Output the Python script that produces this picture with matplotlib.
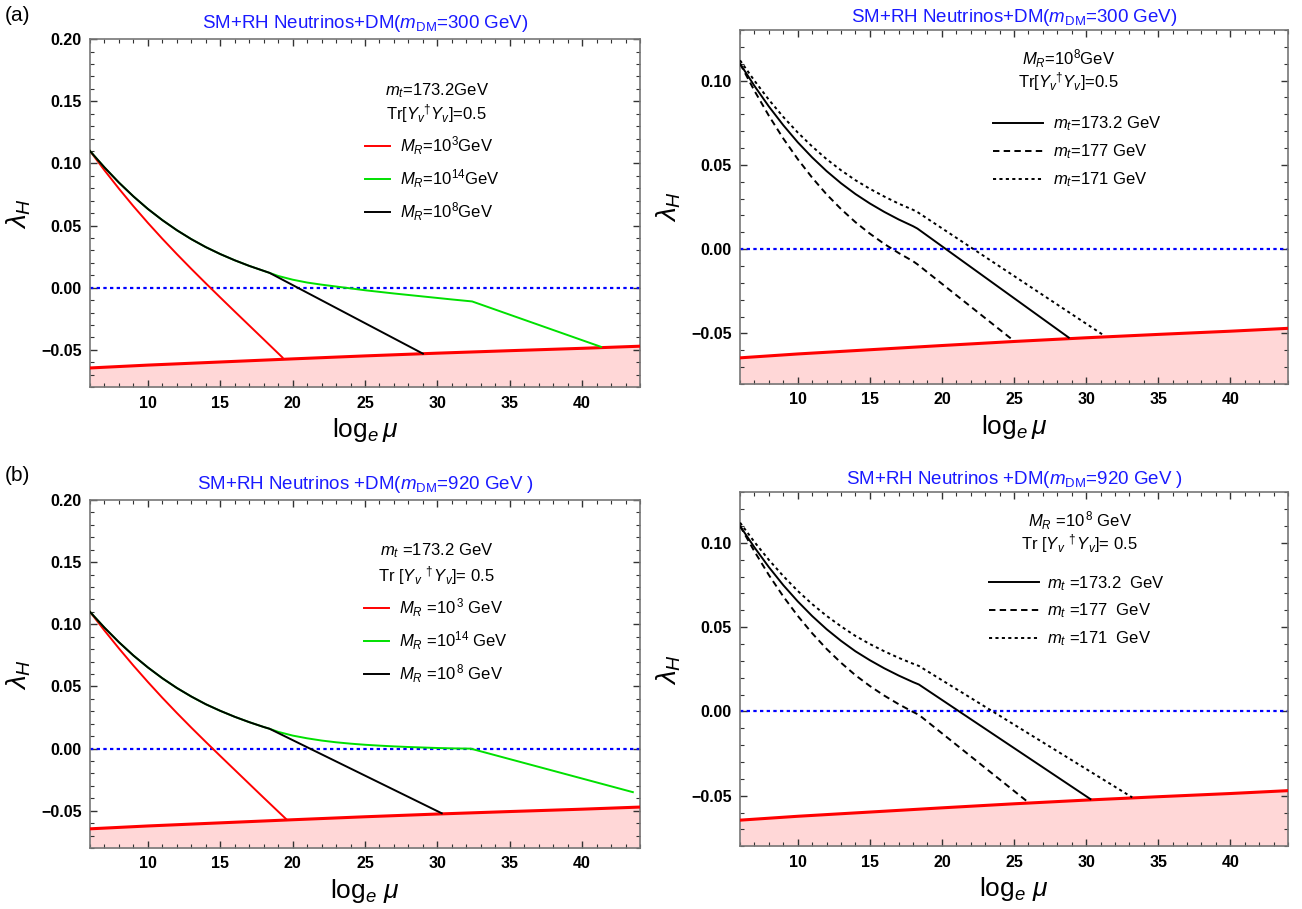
import numpy as np
import matplotlib
matplotlib.use("Agg")
import matplotlib.pyplot as plt
from matplotlib.lines import Line2D
from matplotlib.ticker import MultipleLocator

plt.rcParams['font.family'] = ['Liberation Sans', 'DejaVu Sans']
plt.rcParams['mathtext.fontset'] = 'custom'
plt.rcParams['mathtext.rm'] = 'Liberation Sans'
plt.rcParams['mathtext.it'] = 'Liberation Sans:italic'
plt.rcParams['mathtext.bf'] = 'Liberation Sans:bold'

# ---- vacuum stability bound (lower red line) ----
bound_x = [6, 10, 15, 20, 25, 30, 35, 40, 44]
bound_y = [-0.0645, -0.0622, -0.0597, -0.0572, -0.0548, -0.0526, -0.0506, -0.0487, -0.0470]

# common running scale points below the M_R threshold
run_x = [6, 7, 8, 9, 10, 11, 12, 13, 14, 15, 16, 17, 18]

# ---- (a) m_DM = 300 GeV, varying M_R ----
a_mr3_x = run_x + [19.3]
a_mr3_y = [0.110, 0.0945, 0.0797, 0.0656, 0.0522, 0.0394, 0.0271, 0.0152, 0.0036, -0.0078, -0.0191,
           -0.0303, -0.0415, -0.0561]
a_mr8_x = run_x + [18.4, 29.0]
a_mr8_y = [0.110, 0.0968, 0.0846, 0.0735, 0.0634, 0.0544, 0.0463, 0.0391, 0.0327, 0.0271, 0.0221,
           0.0176, 0.0136, 0.012, -0.053]
a_mr14_x = run_x + [18.4, 19, 20, 21, 22, 23, 24, 25, 26, 27, 28, 29, 30, 31, 32.4, 41.3]
a_mr14_y = [0.110, 0.0968, 0.0846, 0.0735, 0.0634, 0.0544, 0.0463, 0.0391, 0.0327, 0.0271, 0.0221,
            0.0176, 0.0136, 0.012, 0.0095, 0.0065, 0.0042, 0.0025, 0.0010, -0.0005, -0.0020, -0.0033,
            -0.0046, -0.0058, -0.0070, -0.0082, -0.0094, -0.0110, -0.0475]

# ---- (a) M_R = 1e8 GeV, varying m_t ----
a_mt173_x = run_x + [18.3, 28.8]
a_mt173_y = [0.110, 0.0968, 0.0846, 0.0735, 0.0634, 0.0544, 0.0463, 0.0391, 0.0327, 0.0271, 0.0221,
             0.0176, 0.0136, 0.0122, -0.0525]
a_mt177_x = run_x + [18.3, 25.0]
a_mt177_y = [0.110, 0.0939, 0.0791, 0.0656, 0.0534, 0.0424, 0.0325, 0.0238, 0.0160, 0.0092, 0.0031,
             -0.0023, -0.0072, -0.0090, -0.0545]
a_mt171_x = run_x + [18.3, 31.2]
a_mt171_y = [0.112, 0.0999, 0.0886, 0.0784, 0.0692, 0.0609, 0.0534, 0.0468, 0.0409, 0.0358, 0.0312,
             0.0270, 0.0233, 0.0220, -0.0510]

# ---- (b) m_DM = 920 GeV, varying M_R ----
b_mr3_x = run_x + [19.6]
b_mr3_y = [0.110, 0.0950, 0.0806, 0.0668, 0.0536, 0.0409, 0.0287, 0.0169, 0.0054, -0.0059, -0.0171,
           -0.0283, -0.0395, -0.0572]
b_mr8_x = run_x + [18.4, 30.3]
b_mr8_y = [0.110, 0.0973, 0.0856, 0.0749, 0.0653, 0.0566, 0.0488, 0.0419, 0.0357, 0.0304, 0.0256,
           0.0213, 0.0174, 0.016, -0.052]
b_mr14_x = run_x + [18.4, 19, 20, 21, 22, 23, 24, 25, 26, 27, 28, 29, 30, 31, 32.3, 43.5]
b_mr14_y = [0.110, 0.0973, 0.0856, 0.0749, 0.0653, 0.0566, 0.0488, 0.0419, 0.0357, 0.0304, 0.0256,
            0.0213, 0.0174, 0.016, 0.0135, 0.0105, 0.0083, 0.0065, 0.0051, 0.0040, 0.0031, 0.0024,
            0.0018, 0.0013, 0.0009, 0.0005, 0.0002, 0.0000, -0.0350]

# ---- (b) M_R = 1e8 GeV, varying m_t ----
b_mt173_x = run_x + [18.4, 30.3]
b_mt173_y = [0.110, 0.0973, 0.0856, 0.0749, 0.0653, 0.0566, 0.0488, 0.0419, 0.0357, 0.0304, 0.0256,
             0.0213, 0.0174, 0.016, -0.052]
b_mt177_x = run_x + [18.4, 26.0]
b_mt177_y = [0.110, 0.0949, 0.0809, 0.0682, 0.0567, 0.0464, 0.0371, 0.0289, 0.0215, 0.0151, 0.0094,
             0.0043, -0.0003, -0.0020, -0.0540]
b_mt171_x = run_x + [18.4, 33.2]
b_mt171_y = [0.112, 0.1005, 0.0899, 0.0803, 0.0715, 0.0637, 0.0567, 0.0505, 0.0448, 0.0400, 0.0357,
             0.0318, 0.0283, 0.0270, -0.0510]

BLUE = "#1a1aff"
GREEN = "#00e000"
DASH = (0, (3.3, 2.2))
DOT = (0, (1.6, 1.7))


def style_axes(ax, ymin, ymax, ymajor):
    ax.set_xlim(6, 44)
    ax.set_ylim(ymin, ymax)
    ax.xaxis.set_major_locator(MultipleLocator(5))
    ax.xaxis.set_minor_locator(MultipleLocator(1))
    ax.yaxis.set_major_locator(MultipleLocator(ymajor))
    ax.yaxis.set_minor_locator(MultipleLocator(0.01))
    ax.tick_params(which="both", direction="in", top=True, right=True, color="#333333")
    ax.tick_params(which="major", length=5, width=1.0, labelsize=11.5, pad=6)
    ax.tick_params(which="minor", length=3, width=0.8)
    for lab in ax.get_xticklabels() + ax.get_yticklabels():
        lab.set_fontweight("bold")
    for sp in ax.spines.values():
        sp.set_color("#777777")
        sp.set_linewidth(1.2)
    # stability bound and shaded excluded region
    ax.fill_between(bound_x, ymin, bound_y, color="#ffd7d7", zorder=1)
    ax.plot(bound_x, bound_y, color="red", lw=2.2, zorder=3)
    ax.axhline(0.0, color="blue", lw=1.6, ls=(0, (1.5, 1.5)), zorder=2)


def header(ax, x, y1, y2, l1, l2):
    ax.text(x, y1, l1, transform=ax.transAxes, ha="center", va="center", fontsize=12)
    ax.text(x, y2, l2, transform=ax.transAxes, ha="center", va="center", fontsize=12)


fig = plt.figure(figsize=(13.02, 9.09), dpi=100)

ax1 = fig.add_axes([0.0691, 0.574, 0.4225, 0.383])
ax2 = fig.add_axes([0.5684, 0.5776, 0.4208, 0.3894])
ax3 = fig.add_axes([0.0691, 0.067, 0.4225, 0.383])
ax4 = fig.add_axes([0.5684, 0.069, 0.4208, 0.3894])

for ax in (ax1, ax3):
    style_axes(ax, -0.08, 0.20, 0.05)
for ax in (ax2, ax4):
    style_axes(ax, -0.08, 0.13, 0.05)

mr_handles = [Line2D([], [], color="red", lw=1.4), Line2D([], [], color=GREEN, lw=1.4),
              Line2D([], [], color="black", lw=1.4)]
mt_handles = [Line2D([], [], color="black", lw=1.4), Line2D([], [], color="black", lw=1.4, ls=DASH),
              Line2D([], [], color="black", lw=1.4, ls=DOT)]

# (a) left
ax1.plot(a_mr3_x, a_mr3_y, color="red", lw=1.4, zorder=4)
ax1.plot(a_mr14_x, a_mr14_y, color=GREEN, lw=1.4, zorder=4)
ax1.plot(a_mr8_x, a_mr8_y, color="black", lw=1.4, zorder=5)
header(ax1, 0.63, 0.853, 0.787, r"$m_t$=173.2GeV", r"Tr[$Y_v{}^{\dagger}Y_v$]=0.5")
ax1.legend(mr_handles, [r"$M_R$=10$^3$GeV", r"$M_R$=10$^{14}$GeV", r"$M_R$=10$^8$GeV"],
           loc="upper left", bbox_to_anchor=(0.473, 0.769), frameon=False, fontsize=12,
           handlelength=1.5, handletextpad=0.6, labelspacing=0.63)

# (a) right
ax2.plot(a_mt173_x, a_mt173_y, color="black", lw=1.4, zorder=4)
ax2.plot(a_mt177_x, a_mt177_y, color="black", lw=1.4, ls=DASH, zorder=4)
ax2.plot(a_mt171_x, a_mt171_y, color="black", lw=1.4, ls=DOT, zorder=4)
header(ax2, 0.60, 0.92, 0.853, r"$M_R$=10$^8$GeV", r"Tr[$Y_v{}^{\dagger}Y_v$]=0.5")
ax2.legend(mt_handles, [r"$m_t$=173.2 GeV", r"$m_t$=177 GeV", r"$m_t$=171 GeV"],
           loc="upper left", bbox_to_anchor=(0.435, 0.803), frameon=False, fontsize=12,
           handlelength=3.0, handletextpad=0.6, labelspacing=0.55)

# (b) left
ax3.plot(b_mr3_x, b_mr3_y, color="red", lw=1.4, zorder=4)
ax3.plot(b_mr14_x, b_mr14_y, color=GREEN, lw=1.4, zorder=4)
ax3.plot(b_mr8_x, b_mr8_y, color="black", lw=1.4, zorder=5)
header(ax3, 0.63, 0.855, 0.783, r"$m_t$ =173.2 GeV", r"Tr [$Y_v{}^{\;\dagger}Y_v$]= 0.5")
ax3.legend(mr_handles, [r"$M_R$ =10$^{\,3}$ GeV", r"$M_R$ =10$^{14}$ GeV", r"$M_R$ =10$^{\,8}$ GeV"],
           loc="upper left", bbox_to_anchor=(0.47, 0.766), frameon=False, fontsize=12,
           handlelength=1.5, handletextpad=0.6, labelspacing=0.63)

# (b) right
ax4.plot(b_mt173_x, b_mt173_y, color="black", lw=1.4, zorder=4)
ax4.plot(b_mt177_x, b_mt177_y, color="black", lw=1.4, ls=DASH, zorder=4)
ax4.plot(b_mt171_x, b_mt171_y, color="black", lw=1.4, ls=DOT, zorder=4)
header(ax4, 0.62, 0.92, 0.855, r"$M_R$ =10$^{\,8}$ GeV", r"Tr [$Y_v{}^{\;\dagger}Y_v$]= 0.5")
ax4.legend(mt_handles, [r"$m_t$ =173.2  GeV", r"$m_t$ =177  GeV", r"$m_t$ =171  GeV"],
           loc="upper left", bbox_to_anchor=(0.427, 0.812), frameon=False, fontsize=12,
           handlelength=3.0, handletextpad=0.5, labelspacing=0.55)

# titles
ax1.set_title(r"SM+RH Neutrinos+DM($m_{\rm DM}$=300 GeV)", color=BLUE, fontsize=13.5, pad=8)
ax2.set_title(r"SM+RH Neutrinos+DM($m_{\rm DM}$=300 GeV)", color=BLUE, fontsize=13.5, pad=6)
ax3.set_title(r"SM+RH Neutrinos +DM($m_{\rm DM}$=920 GeV )", color=BLUE, fontsize=13.5, pad=8)
ax4.set_title(r"SM+RH Neutrinos +DM($m_{\rm DM}$=920 GeV )", color=BLUE, fontsize=13.5, pad=6)

fig.text(0.004, 0.983, "(a)", fontsize=15, va="center")
fig.text(0.004, 0.477, "(b)", fontsize=15, va="center")

for ax in (ax1, ax2):
    ax.set_xlabel(r"$\log_e\mu$", fontsize=19, labelpad=4)
for ax in (ax3, ax4):
    ax.set_xlabel(r"$\log_e\,\mu$", fontsize=19, labelpad=4)
for ax in (ax1, ax2, ax3, ax4):
    ax.set_ylabel(r"$\lambda_H$", fontsize=20, labelpad=6)

fig.savefig("out.png", dpi=100)
